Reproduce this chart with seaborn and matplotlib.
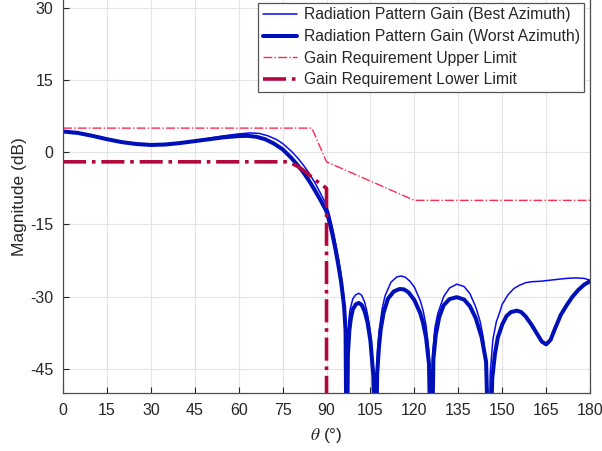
import matplotlib
matplotlib.use("Agg")
import matplotlib.pyplot as plt
import seaborn as sns
import pandas as pd

# elevation angle (deg) and gain (dB)
theta_best = [0, 5, 10, 15, 20, 25, 30, 35, 40, 45, 50, 55, 60, 64, 67, 70, 73, 75, 78, 80,
              82, 84, 86, 88, 90, 91, 92, 93, 94, 95, 96, 96.5, 96.8, 97.2, 97.6, 98, 99, 100,
              101, 102, 103, 104, 105, 106, 106.5, 107, 107.5, 108, 109, 110, 112, 114, 115.5,
              117, 118.5, 120, 122, 123, 124, 125, 125.6, 126.2, 127, 128, 130, 132, 134.5,
              137, 139, 141, 142.5, 143.5, 144.5, 145.2, 145.9, 146.8, 148, 149, 150, 152, 154,
              156, 158, 160, 163, 166, 169, 172, 175, 178, 180]
gain_best = [4.4, 4.1, 3.5, 2.8, 2.2, 1.8, 1.6, 1.7, 2.0, 2.4, 2.9, 3.4, 3.8, 4.0, 3.9, 3.4, 2.6,
             1.8, 0.2, -1.1, -2.6, -4.3, -6.3, -8.6, -11.0, -13.0, -15.6, -18.6, -21.8, -25.5,
             -30.5, -35.0, -70, -40.0, -35.0, -32.8, -30.4, -29.6, -29.3, -29.7, -31.1, -33.6,
             -37.5, -45.0, -70, -46.0, -40.5, -37.0, -32.5, -29.8, -27.0, -25.9, -25.7, -26.0,
             -26.8, -28.0, -30.8, -32.9, -36.0, -41.5, -70, -42.0, -36.5, -33.5, -30.0, -28.2,
             -27.4, -27.9, -29.4, -32.2, -35.2, -38.4, -43.5, -70, -46.0, -39.0, -35.2, -33.5,
             -31.6, -29.6, -28.3, -27.6, -27.1, -26.9, -26.8, -26.6, -26.4, -26.2, -26.1,
             -26.2, -26.6]

theta_worst = [0, 5, 10, 15, 20, 25, 30, 35, 40, 45, 50, 55, 60, 63, 66, 69, 72, 75, 78, 80,
               82, 84, 86, 88, 90, 91, 92, 93, 94, 95, 96, 96.5, 96.9, 97.3, 97.8, 98.3, 99, 100,
               101, 102, 103, 104, 105, 106, 106.7, 107.3, 107.9, 108.5, 109.5, 111, 113, 115,
               116.5, 118, 120, 122, 123, 124, 125, 125.8, 126.5, 127.3, 128.5, 130, 132, 134.5,
               137, 139, 141, 143, 144.5, 145.7, 146.6, 147.5, 148.5, 150, 151.5, 153, 155,
               156.5, 158, 160, 162, 163.5, 165, 166.5, 168, 170, 172, 174, 176, 178, 180]
gain_worst = [4.3, 4.0, 3.4, 2.7, 2.1, 1.7, 1.5, 1.6, 1.9, 2.3, 2.7, 3.1, 3.35, 3.4, 3.2, 2.7,
              1.8, 0.6, -1.2, -2.6, -4.1, -5.9, -7.9, -10.0, -12.3, -14.5, -17.0, -20.0, -23.3,
              -27.0, -32.0, -37.0, -70, -42.0, -37.0, -34.5, -32.6, -31.6, -31.3, -31.7, -33.0,
              -35.3, -39.2, -46.5, -70, -46.0, -40.5, -36.8, -33.3, -30.4, -28.9, -28.4, -28.5,
              -29.1, -30.7, -33.4, -35.5, -38.5, -44.0, -70, -43.0, -38.0, -34.2, -31.8, -30.5,
              -30.1, -30.6, -32.0, -34.5, -38.5, -43.5, -70, -47.0, -42.0, -38.5, -35.8, -34.0,
              -33.2, -32.9, -33.2, -34.1, -35.8, -37.8, -39.3, -39.9, -39.0, -36.7, -33.8,
              -31.8, -30.0, -28.6, -27.5, -26.8]

theta_upper = [0, 85, 90, 120, 180]
gain_upper = [5, 5, -2, -10, -10]

theta_lower = [0, 76, 78, 80, 82, 84, 86, 88, 90, 90]
gain_lower = [-2, -2, -2.3, -2.9, -3.7, -4.7, -5.7, -6.6, -7.5, -60]

sns.set_theme(style="whitegrid")
plt.rcParams["font.family"] = ["Liberation Sans", "DejaVu Sans"]
plt.rcParams["mathtext.fontset"] = "stix"
plt.rcParams["axes.unicode_minus"] = False

fig = plt.figure(figsize=(6.02, 4.51), dpi=100)
ax = fig.add_axes([0.1047, 0.1286, 0.8754, 0.8714])

series = [
    (theta_best, gain_best, "Radiation Pattern Gain (Best Azimuth)", "#0a0af0", 1.1, "-"),
    (theta_worst, gain_worst, "Radiation Pattern Gain (Worst Azimuth)", "#0010b8", 2.9, "-"),
    (theta_upper, gain_upper, "Gain Requirement Upper Limit", "#ff2a50", 1.0, "-."),
    (theta_lower, gain_lower, "Gain Requirement Lower Limit", "#b2073b", 2.6, "-."),
]
for th, g, name, col, lw, ls in series:
    df = pd.DataFrame({"theta": th, "gain": g})
    sns.lineplot(data=df, x="theta", y="gain", ax=ax, color=col, lw=lw,
                 linestyle=ls, sort=False, estimator=None, label=name)

ax.set_xlim(0, 180)
ax.set_ylim(-50, 31.6)
ax.set_xticks(range(0, 181, 15))
ax.set_yticks([-45, -30, -15, 0, 15, 30])
ax.tick_params(labelsize=11.5, colors="#262626", direction="in", length=4, width=0.8,
               bottom=True, left=True, pad=7)
ax.grid(True, color="#e4e4e4", lw=0.8)
for side in ["left", "bottom", "right"]:
    ax.spines[side].set_visible(True)
    ax.spines[side].set_color("#4d4d4d")
    ax.spines[side].set_linewidth(0.9)
ax.spines["top"].set_visible(False)

ax.set_xlabel(r"$\theta$ (°)", fontsize=12.5, color="#262626", labelpad=6)
ax.set_ylabel("Magnitude (dB)", fontsize=12.5, color="#262626", labelpad=2)

leg = ax.legend(loc="upper right", bbox_to_anchor=(0.989, 0.993), borderaxespad=0,
                fontsize=11.3, frameon=True, fancybox=False, handlelength=2.2,
                handletextpad=0.4, labelspacing=0.42, borderpad=0.3)
leg.get_frame().set_edgecolor("#555555")
leg.get_frame().set_linewidth(0.9)
leg.get_frame().set_alpha(1)

fig.savefig("out.png", dpi=100)
